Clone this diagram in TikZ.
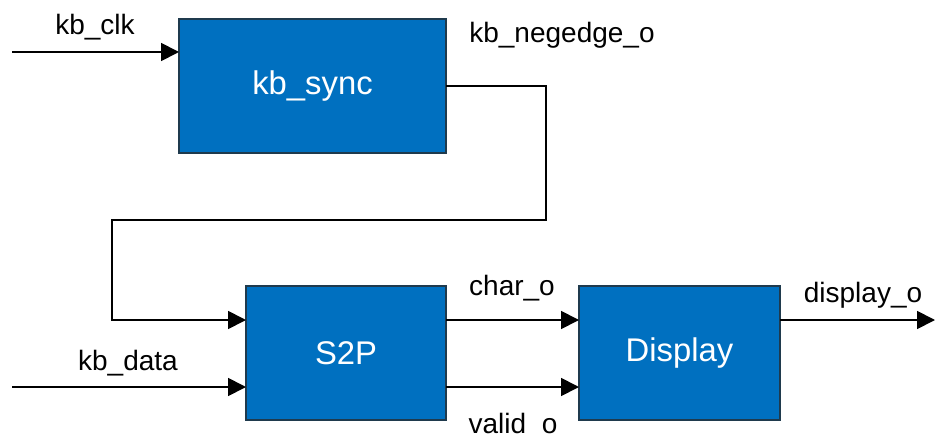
\documentclass[tikz,border=0pt]{standalone}
\usepackage{fontspec}
\setmainfont{Liberation Sans}
\usepackage{tikz}
\usetikzlibrary{arrows.meta,positioning}
\definecolor{blockblue}{HTML}{0070C0}
\definecolor{blockedge}{HTML}{1F3A4D}
\tikzset{
  block/.style ={draw=blockedge,line width=0.6pt,fill=blockblue,text=white,outer sep=0pt,
                 inner sep=0pt,minimum height=67pt,font=\fontsize{16.4}{19}\selectfont},
  sig/.style   ={-{Triangle[length=9pt,width=9pt]},line width=0.9pt,draw=black},
  lbl/.style   ={inner sep=0pt,anchor=base,font=\fontsize{14}{16}\selectfont}
}
\begin{document}
\begin{tikzpicture}[x=0.5pt,y=-0.5pt]
  \useasboundingbox (0,0) rectangle (935,433);
  % blocks
  \node[block,minimum width=133.5pt] (sync) at (312.5,86) {kb\_sync};
  \node[block,minimum width=100pt,below=66.5pt of sync.south east,anchor=north east] (s2p) {S2P};
  \node[block,minimum width=100.5pt,right=66.5pt of s2p] (disp) {Display};
  % free ends, ports and bends
  \coordinate (clkin) at (12,52);
  \coordinate (datain) at (12,387);
  \coordinate (fbright) at (546,220);
  \coordinate (fbleft) at (112,320);
  \coordinate (dispout) at (935,0);
  \coordinate (dispport) at ([yshift=16.5pt]disp.east);
  % signals
  \draw[sig] (clkin) -- (clkin -| sync.west);
  \draw[sig] (sync.east) -| (fbright) -| (fbleft) -- (fbleft -| s2p.west);
  \draw[sig] (datain) -- (datain -| s2p.west);
  \draw[sig] ([yshift=16.5pt]s2p.east) -- ([yshift=16.5pt]disp.west);
  \draw[sig] ([yshift=-17pt]s2p.east) -- ([yshift=-17pt]disp.west);
  \draw[sig] (dispport) -- (dispport -| dispout);
  % labels
  \node[lbl] (clklbl) at (95,34.5) {kb\_clk};
  \node[lbl] (neglbl) at (562,43) {kb\_negedge\_o};
  \node[lbl] (datalbl) at (128,370) {kb\_data};
  \node[lbl] (charlbl) at (512,295) {char\_o};
  \node[lbl] (validlbl) at (513,433) {valid\_o};
  \node[lbl] (displbl) at (863,302) {display\_o};
\end{tikzpicture}
\end{document}
